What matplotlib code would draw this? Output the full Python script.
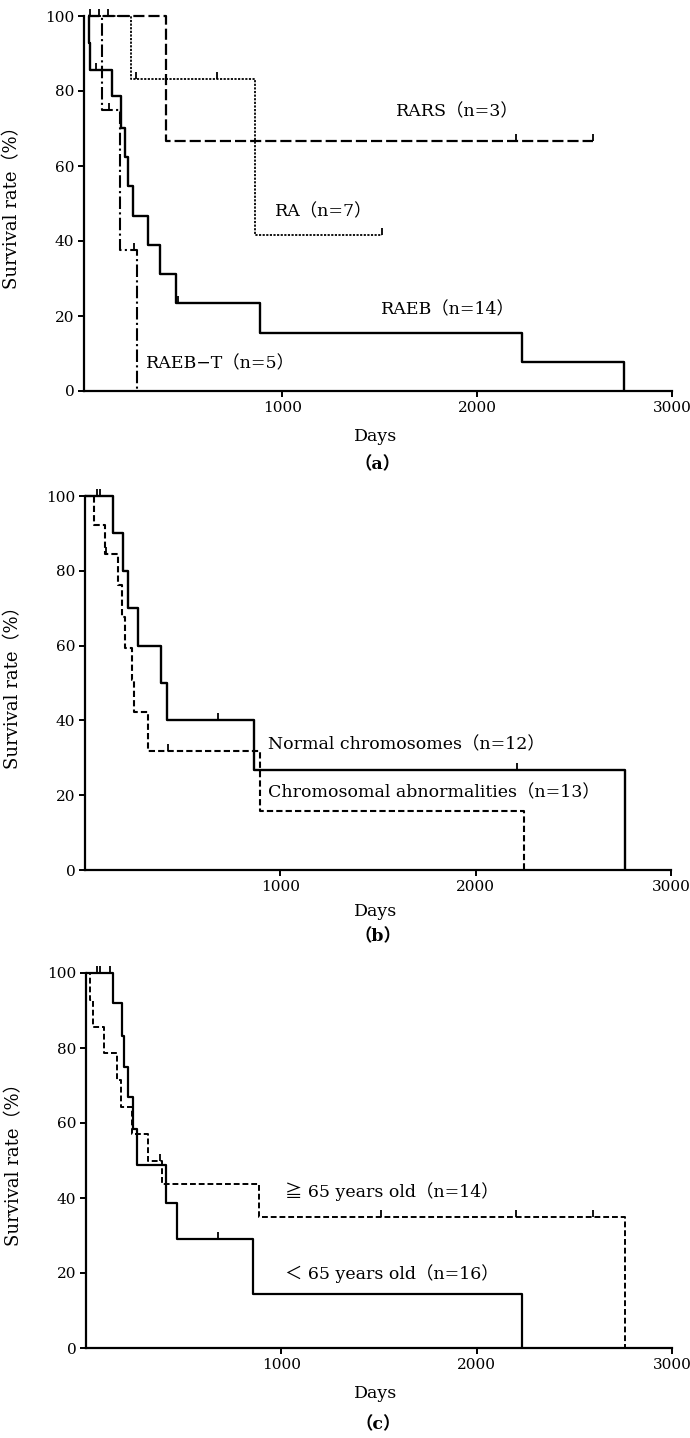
import matplotlib
matplotlib.use("Agg")
import matplotlib.pyplot as plt
import matplotlib.markers as mmarkers

# ---------------- data ----------------
# Panel (a): by FAB subtype
raeb_days = [0, 8, 12, 128, 171, 195, 208, 234, 308, 371, 456, 884, 2231, 2755]
raeb_surv = [100, 92.9, 85.7, 78.6, 70.2, 62.4, 54.6, 46.8, 39.0, 31.2, 23.4, 15.6, 7.8, 0]
raeb_cens_days = [46, 465]
raeb_cens_surv = [85.7, 23.4]

raebt_days = [0, 72, 166, 254]
raebt_surv = [100, 75.0, 37.5, 0]
raebt_cens_days = [60, 111, 237]
raebt_cens_surv = [100, 75.0, 37.5]

ra_days = [0, 222, 858, 1513]
ra_surv = [100, 83.3, 41.7, 41.7]
ra_cens_days = [106, 248, 667, 1513]
ra_cens_surv = [100, 83.3, 83.3, 41.7]

rars_days = [0, 402, 2597]
rars_surv = [100, 66.7, 66.7]
rars_cens_days = [12, 2200, 2597]
rars_cens_surv = [100, 66.7, 66.7]

# Panel (b): by chromosome findings
norm_days = [0, 141, 193, 222, 270, 390, 422, 863, 2764]
norm_surv = [100, 90, 80, 70, 60, 50, 40, 26.7, 0]
norm_cens_days = [60, 77, 679, 2214]
norm_cens_surv = [100, 100, 40, 26.7]

abn_days = [0, 48, 103, 171, 188, 205, 240, 250, 325, 897, 2245]
abn_surv = [100, 92.3, 84.6, 76.2, 67.7, 59.3, 50.8, 42.3, 31.7, 15.9, 0]
abn_cens_days = [110, 424]
abn_cens_surv = [84.6, 31.7]

# Panel (c): by age
young_days = [0, 136, 183, 196, 217, 242, 262, 408, 467, 856, 2234]
young_surv = [100, 92.1, 83.2, 75.0, 66.9, 58.5, 48.8, 38.8, 29.2, 14.5, 0]
young_cens_days = [55, 72, 122, 677]
young_cens_surv = [100, 100, 100, 29.2]

old_days = [0, 20, 37, 94, 157, 179, 234, 316, 387, 887, 2757]
old_surv = [100, 92.9, 85.7, 78.6, 71.4, 64.3, 57.1, 50.0, 43.75, 35.0, 0]
old_cens_days = [378, 1509, 2203, 2598]
old_cens_surv = [50.0, 35.0, 35.0, 35.0]

y_ticks = [0, 20, 40, 60, 80, 100]
x_ticks = [1000, 2000, 3000]

# ---------------- style ----------------
FAM = ["DejaVu Serif", "Noto Sans CJK JP"]
plt.rcParams["font.family"] = FAM

W, H = 690, 1438
fig = plt.figure(figsize=(W / 100, H / 100), dpi=100)


def make_ax(left_px, right_px, top_px, bottom_px, xmin):
    ax = fig.add_axes([left_px / W, 1 - bottom_px / H,
                       (right_px - left_px) / W, (bottom_px - top_px) / H])
    ax.set_xlim(xmin, 3000)
    ax.set_ylim(0, 100)
    for s in ("top", "right"):
        ax.spines[s].set_visible(False)
    for s in ("left", "bottom"):
        ax.spines[s].set_linewidth(1.6)
    ax.set_xticks(x_ticks)
    ax.set_yticks(y_ticks)
    ax.tick_params(axis="both", direction="out", length=4, width=1.4,
                   labelsize=11, pad=3)
    ax.set_ylabel("Survival rate（%）", fontsize=13, family=FAM)
    ax.yaxis.set_label_coords(-0.107, 0.5)
    return ax


def km(ax, d, s, cd, cs, ls, lw):
    ax.step(d, s, where="post", color="black", linestyle=ls, linewidth=lw,
            clip_on=False, solid_capstyle="butt")
    ax.plot(cd, cs, linestyle="none", marker=mmarkers.TICKUP, markersize=5,
            markeredgewidth=1.3, color="black", clip_on=False)


TXT = dict(fontsize=12.5, family=FAM, va="center", ha="left")

# ---- (a)
axa = make_ax(84, 672, 16, 391, -18)
km(axa, raeb_days, raeb_surv, raeb_cens_days, raeb_cens_surv, "-", 1.7)
km(axa, raebt_days, raebt_surv, raebt_cens_days, raebt_cens_surv, (0, (6, 1.6, 1, 1.6)), 1.5)
km(axa, ra_days, ra_surv, ra_cens_days, ra_cens_surv, (0, (1.2, 0.8)), 1.3)
km(axa, rars_days, rars_surv, rars_cens_days, rars_cens_surv, (0, (5, 1.8)), 1.6)
axa.text(1582, 74.4, "RARS（n=3）", **TXT)
axa.text(960, 47.7, "RA（n=7）", **TXT)
axa.text(1504, 21.6, "RAEB（n=14）", **TXT)
axa.text(300, 7.2, "RAEB−T（n=5）", **TXT)

# ---- (b)
axb = make_ax(85, 671, 496, 870, 0)
km(axb, norm_days, norm_surv, norm_cens_days, norm_cens_surv, "-", 1.7)
km(axb, abn_days, abn_surv, abn_cens_days, abn_cens_surv, (0, (3, 1.5)), 1.5)
axb.text(938, 33.4, "Normal chromosomes（n=12）", **TXT)
axb.text(938, 20.6, "Chromosomal abnormalities（n=13）", **TXT)

# ---- (c)
axc = make_ax(86, 672, 973, 1348, 0)
km(axc, young_days, young_surv, young_cens_days, young_cens_surv, "-", 1.6)
km(axc, old_days, old_surv, old_cens_days, old_cens_surv, (0, (3, 1.5)), 1.4)
axc.text(1018, 41.6, "≧ 65 years old（n=14）", **TXT)
axc.text(1018, 19.9, "＜ 65 years old（n=16）", **TXT)

# ---- captions
for ydays, ylab, lab in [(437, 465, "a"), (912, 937, "b"), (1393, 1425, "c")]:
    fig.text(376 / W, 1 - ydays / H, "Days", fontsize=12.5, ha="center", va="center", family=FAM)
    fig.text(378 / W, 1 - ylab / H, "（" + lab + "）", fontsize=12.5, ha="center", va="center",
             fontweight="bold", family=FAM)

fig.savefig("out.png", dpi=100)
